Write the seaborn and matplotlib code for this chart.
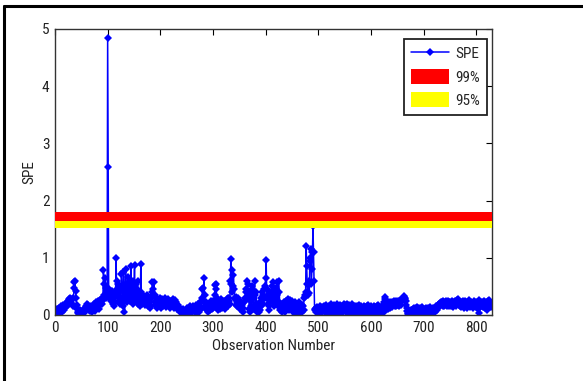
import numpy as np
import pandas as pd
import seaborn as sns
import matplotlib
matplotlib.use("Agg")
import matplotlib.pyplot as plt
from matplotlib.lines import Line2D

# ---------------- data ----------------
spe_values = [
    0.05,0.08,0.04,0.06,0.10,0.03,0.07,0.12,0.09,0.06,
    0.13,0.08,0.15,0.11,0.06,0.14,0.18,0.12,0.09,0.16,
    0.20,0.14,0.18,0.22,0.17,0.25,0.21,0.28,0.24,0.30,
    0.26,0.22,0.28,0.19,0.15,0.30,0.48,0.58,0.60,0.42,
    0.30,0.18,0.10,0.06,0.03,0.08,0.02,0.05,0.09,0.04,
    0.02,0.06,0.03,0.08,0.05,0.10,0.04,0.07,0.12,0.16,
    0.20,0.15,0.11,0.18,0.14,0.09,0.13,0.07,0.10,0.15,
    0.05,0.11,0.08,0.14,0.19,0.12,0.07,0.16,0.22,0.13,
    0.18,0.24,0.15,0.20,0.10,0.26,0.17,0.22,0.28,0.19,
    0.25,0.30,0.78,0.55,0.35,0.65,0.48,0.30,0.42,0.35,
    4.85,2.58,0.35,0.45,0.28,0.38,0.30,0.25,0.42,0.33,
    0.20,0.28,0.15,0.35,0.22,0.40,1.00,0.45,0.60,0.55,
    0.35,0.25,0.30,0.48,0.20,0.45,0.72,0.50,0.30,0.15,
    0.75,0.40,0.05,0.28,0.80,0.55,0.35,0.22,0.45,0.67,
    0.30,0.40,0.60,0.25,0.85,0.50,0.30,0.45,0.20,0.60,
    0.40,0.88,0.25,0.35,0.55,0.30,0.45,0.60,0.20,0.38,
    0.30,0.15,0.25,0.90,0.40,0.28,0.20,0.35,0.22,0.30,
    0.25,0.18,0.32,0.20,0.28,0.35,0.22,0.15,0.25,0.18,
    0.12,0.22,0.30,0.15,0.40,0.58,0.45,0.35,0.58,0.22,
    0.35,0.25,0.18,0.28,0.12,0.20,0.25,0.15,0.22,0.30,
    0.18,0.25,0.12,0.20,0.28,0.15,0.22,0.18,0.25,0.30,
    0.20,0.14,0.26,0.18,0.22,0.28,0.16,0.24,0.20,0.12,
    0.18,0.25,0.15,0.22,0.28,0.18,0.12,0.20,0.26,0.16,
    0.22,0.15,0.10,0.18,0.12,0.08,0.14,0.06,0.10,0.05,
    0.08,0.03,0.06,0.10,0.04,0.07,0.02,0.05,0.09,0.04,
    0.06,0.12,0.05,0.08,0.03,0.10,0.15,0.07,0.04,0.09,
    0.12,0.06,0.10,0.15,0.08,0.05,0.11,0.18,0.09,0.14,
    0.06,0.12,0.20,0.10,0.05,0.15,0.08,0.25,0.12,0.30,
    0.45,0.48,0.25,0.65,0.35,0.15,0.22,0.10,0.18,0.08,
    0.12,0.05,0.15,0.10,0.20,0.08,0.14,0.25,0.18,0.10,
    0.12,0.25,0.18,0.35,0.52,0.45,0.55,0.30,0.15,0.22,
    0.08,0.15,0.20,0.10,0.25,0.18,0.28,0.22,0.12,0.20,
    0.15,0.25,0.18,0.10,0.22,0.14,0.28,0.20,0.16,0.30,
    0.25,0.30,0.20,0.60,0.98,0.55,0.40,0.78,0.50,0.70,
    0.45,0.30,0.28,0.18,0.32,0.22,0.15,0.30,0.25,0.18,
    0.16,0.25,0.10,0.20,0.14,0.08,0.18,0.05,0.12,0.22,
    0.30,0.25,0.45,0.40,0.30,0.60,0.55,0.40,0.30,0.10,
    0.05,0.35,0.25,0.15,0.45,0.50,0.30,0.10,0.40,0.60,
    0.35,0.20,0.40,0.15,0.05,0.12,0.20,0.10,0.05,0.15,
    0.08,0.25,0.30,0.18,0.40,0.35,0.20,0.45,0.30,0.50,
    0.65,0.96,0.45,0.30,0.20,0.35,0.15,0.08,0.22,0.30,
    0.25,0.40,0.25,0.50,0.58,0.15,0.22,0.35,0.48,0.30,
    0.20,0.35,0.58,0.25,0.15,0.60,0.40,0.18,0.08,0.15,
    0.12,0.20,0.06,0.15,0.22,0.10,0.18,0.05,0.14,0.25,
    0.20,0.12,0.28,0.15,0.22,0.08,0.18,0.26,0.10,0.20,
    0.15,0.24,0.06,0.18,0.12,0.22,0.08,0.16,0.04,0.20,
    0.12,0.18,0.05,0.15,0.22,0.10,0.06,0.14,0.08,0.18,
    0.05,0.15,0.08,0.30,0.35,0.32,0.40,1.20,0.85,0.55,
    0.35,0.55,0.60,0.38,0.95,1.00,1.15,0.55,0.80,1.10,
    1.55,1.10,0.60,0.10,0.08,0.12,0.06,0.10,0.14,0.08,
    0.10,0.04,0.12,0.07,0.15,0.03,0.10,0.14,0.06,0.11,
    0.08,0.15,0.05,0.12,0.17,0.07,0.11,0.03,0.13,0.09,
    0.16,0.10,0.05,0.12,0.19,0.08,0.14,0.04,0.11,0.17,
    0.12,0.06,0.16,0.10,0.03,0.13,0.19,0.08,0.12,0.05,
    0.15,0.09,0.18,0.06,0.12,0.16,0.04,0.11,0.19,0.13,
    0.08,0.17,0.12,0.05,0.14,0.19,0.09,0.04,0.13,0.18,
    0.11,0.06,0.16,0.12,0.19,0.08,0.03,0.13,0.10,0.16,
    0.06,0.12,0.02,0.09,0.15,0.05,0.11,0.17,0.07,0.12,
    0.04,0.10,0.15,0.06,0.12,0.08,0.16,0.03,0.10,0.14,
    0.07,0.12,0.05,0.15,0.10,0.17,0.06,0.11,0.04,0.14,
    0.08,0.15,0.05,0.12,0.07,0.16,0.10,0.04,0.14,0.09,
    0.12,0.06,0.15,0.10,0.17,0.05,0.11,0.07,0.14,0.04,
    0.10,0.16,0.07,0.12,0.05,0.22,0.28,0.31,0.25,0.17,
    0.14,0.21,0.11,0.18,0.23,0.15,0.21,0.13,0.23,0.17,
    0.21,0.14,0.23,0.17,0.25,0.15,0.21,0.24,0.16,0.22,
    0.18,0.25,0.17,0.23,0.15,0.22,0.26,0.18,0.24,0.28,
    0.24,0.29,0.31,0.33,0.30,0.28,0.24,0.18,0.12,0.07,
    0.04,0.02,0.07,0.01,0.06,0.03,0.09,0.04,0.02,0.08,
    0.11,0.05,0.13,0.03,0.08,0.12,0.04,0.09,0.14,0.06,
    0.11,0.05,0.13,0.08,0.03,0.12,0.06,0.14,0.04,0.09,
    0.05,0.11,0.02,0.08,0.13,0.04,0.09,0.03,0.12,0.06,
    0.04,0.09,0.14,0.05,0.10,0.03,0.08,0.13,0.05,0.10,
    0.08,0.13,0.06,0.11,0.15,0.09,0.14,0.17,0.12,0.19,
    0.15,0.21,0.17,0.23,0.18,0.22,0.16,0.24,0.19,0.16,
    0.22,0.17,0.25,0.20,0.15,0.23,0.19,0.24,0.16,0.22,
    0.17,0.23,0.15,0.20,0.25,0.19,0.14,0.22,0.18,0.24,
    0.20,0.16,0.23,0.19,0.26,0.21,0.28,0.23,0.17,0.22,
    0.16,0.22,0.14,0.19,0.24,0.18,0.13,0.21,0.25,0.19,
    0.23,0.15,0.21,0.12,0.18,0.23,0.26,0.19,0.14,0.22,
    0.17,0.23,0.15,0.21,0.13,0.19,0.24,0.16,0.22,0.14,
    0.21,0.15,0.23,0.11,0.18,0.26,0.04,0.14,0.21,0.15,
    0.23,0.17,0.14,0.22,0.25,0.16,0.21,0.13,0.19,0.23,
    0.09,0.18,0.24,0.15,0.21,0.26,0.16,0.22,0.14,0.19,
]
observations = list(range(len(spe_values)))

limit_labels = ["99%", "95%"]
limit_low = [1.64, 1.52]
limit_high = [1.80, 1.64]
limit_colors = ["#ff0000", "#ffff00"]

x_ticks = [0, 100, 200, 300, 400, 500, 600, 700, 800]
y_ticks = [0, 1, 2, 3, 4, 5]

# ---------------- style ----------------
sns.set_theme(style="white")
plt.rcParams["font.family"] = ["Roboto Condensed", "Liberation Sans", "DejaVu Sans"]
FS = 11

fig = plt.figure(figsize=(5.83, 3.81), dpi=100)
ax = fig.add_axes([55 / 583, 1 - 315 / 381, (492 - 55) / 583, (315 - 29) / 381])

df = pd.DataFrame({"Observation Number": observations, "SPE": spe_values})
sns.lineplot(data=df, x="Observation Number", y="SPE", ax=ax, color="#0000ff",
             linewidth=1.1, marker="D", markersize=4.2, markeredgewidth=0,
             estimator=None, label="SPE", zorder=2)

for lab, lo, hi, col in zip(limit_labels, limit_low, limit_high, limit_colors):
    ax.axhspan(lo, hi, color=col, label=lab, zorder=3, lw=0)

ax.set_xlim(0, 830)
ax.set_ylim(0, 5)
ax.set_xticks(x_ticks)
ax.set_yticks(y_ticks)
ax.tick_params(direction="in", length=4, width=0.8, colors="black",
               top=True, right=True, labelsize=FS, pad=4)
for lbl in ax.get_xticklabels() + ax.get_yticklabels():
    lbl.set_color("#222222")
for s in ax.spines.values():
    s.set_color("#333333")
    s.set_linewidth(1.0)
ax.set_xlabel("Observation Number", fontsize=FS, color="#222222", labelpad=3)
ax.set_ylabel("SPE", fontsize=FS, color="#222222", labelpad=4)

leg = ax.legend(loc="upper right", bbox_to_anchor=(0.989, 0.965), borderaxespad=0,
                handlelength=2.5, handleheight=1.1, handletextpad=0.4,
                labelspacing=0.5, borderpad=0.45, numpoints=1, fontsize=FS,
                frameon=True, fancybox=False, framealpha=1)
leg.get_frame().set_edgecolor("#222222")
leg.get_frame().set_linewidth(1.3)

# outer frame lines (top & left)
fig.add_artist(Line2D([4 / 583, 1], [1 - 6 / 381, 1 - 6 / 381], color="black", lw=2.2,
                      transform=fig.transFigure))
fig.add_artist(Line2D([4 / 583, 4 / 583], [0, 1 - 6 / 381], color="black", lw=2.2,
                      transform=fig.transFigure))

fig.savefig("out.png", dpi=100)
